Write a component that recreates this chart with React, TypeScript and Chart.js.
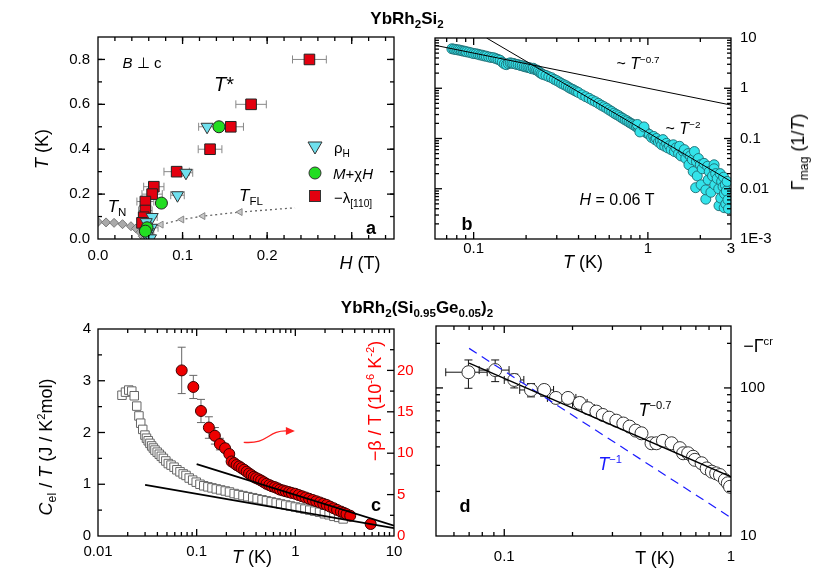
import React, { useEffect, useRef } from 'react';
import { Chart, registerables } from 'chart.js';
Chart.register(...registerables);

const FONT = '"Liberation Sans", Arial, Helvetica, sans-serif';
Chart.defaults.font.family = FONT;

// ---------------- Panel a data (H in T, T in K) ----------------
const lamH = [0.25, 0.181, 0.157, 0.1325, 0.093, 0.066, 0.064, 0.056, 0.056, 0.054, 0.052];
const lamT = [0.8, 0.6, 0.5, 0.4, 0.3, 0.233, 0.2, 0.167, 0.127, 0.097, 0.072];
const lamErr = [0.02, 0.018, 0.015, 0.014, 0.015, 0.012, 0.012, 0.01, 0.008, 0.006, 0.004];
const rhoH = [0.129, 0.104, 0.094, 0.064, 0.057, 0.063, 0.06, 0.058, 0.062];
const rhoT = [0.5, 0.295, 0.195, 0.098, 0.075, 0.05, 0.03, 0.012, 0.003];
const rhoErr = [0.01, 0.008, 0.008, 0.006, 0.004, 0.008, 0.006, 0.005, 0.004];
const magH = [0.143, 0.075, 0.058, 0.056];
const magT = [0.5, 0.16, 0.05, 0.035];
const tnH = [0.0, 0.0095, 0.019, 0.029, 0.039, 0.045, 0.05, 0.053, 0.055];
const tnT = [0.076, 0.074, 0.072, 0.066, 0.057, 0.047, 0.03, 0.012, 0.0];
const tflH = [0.063, 0.0746, 0.099, 0.124, 0.168, 0.233];
const tflT = [0.058, 0.064, 0.087, 0.102, 0.12, 0.139];
const tflShown = [0, 4, 4, 4, 4, 0];

// ---------------- Panel b data ----------------
const gamT1 = [0.075, 0.077, 0.079, 0.081, 0.083, 0.085, 0.087, 0.089, 0.091, 0.094, 0.097, 0.1, 0.103, 0.106, 0.109, 0.112, 0.115, 0.118, 0.122, 0.126, 0.13, 0.134, 0.138, 0.142, 0.146, 0.15, 0.154, 0.158, 0.162, 0.166, 0.17, 0.175, 0.18, 0.185, 0.19, 0.195, 0.2, 0.205, 0.21, 0.215, 0.22, 0.225, 0.23, 0.235, 0.24, 0.245, 0.25];
const gamG1 = [6.1, 6.0, 5.9, 5.8, 5.75, 5.6, 5.5, 5.45, 5.3, 5.2, 5.05, 4.9, 4.85, 4.75, 4.6, 4.55, 4.4, 4.35, 4.2, 4.1, 4.05, 3.9, 3.75, 3.6, 3.3, 3.05, 2.95, 3.1, 3.2, 3.15, 3.1, 3.0, 2.95, 2.85, 2.8, 2.7, 2.65, 2.6, 2.55, 2.45, 2.5, 2.35, 2.3, 2.2, 2.05, 1.95, 1.88];
const gamT2 = [0.26, 0.27, 0.28, 0.29, 0.3, 0.31, 0.32, 0.33, 0.34, 0.35, 0.36, 0.37, 0.38, 0.39, 0.4, 0.42, 0.44, 0.46, 0.48, 0.5, 0.52, 0.54, 0.56, 0.58, 0.6, 0.62, 0.64, 0.66, 0.68, 0.7, 0.72, 0.74, 0.76, 0.78, 0.8, 0.82, 0.84, 0.86, 0.88, 0.9, 0.92, 0.94, 0.96, 0.98, 1.0, 0.87, 0.9, 0.95];
const gamG2 = [1.8, 1.7, 1.62, 1.5, 1.42, 1.33, 1.24, 1.18, 1.12, 1.05, 0.99, 0.95, 0.9, 0.86, 0.82, 0.74, 0.68, 0.63, 0.58, 0.54, 0.5, 0.46, 0.43, 0.4, 0.37, 0.345, 0.32, 0.3, 0.285, 0.265, 0.25, 0.235, 0.225, 0.21, 0.2, 0.19, 0.18, 0.17, 0.16, 0.155, 0.16, 0.145, 0.14, 0.13, 0.125, 0.19, 0.135, 0.17];
const gamT3 = [1.02, 1.05, 1.08, 1.1, 1.12, 1.15, 1.18, 1.2, 1.22, 1.25, 1.28, 1.3, 1.33, 1.36, 1.4, 1.42, 1.45, 1.5, 1.52, 1.55, 1.6, 1.62, 1.65, 1.7, 1.72, 1.75, 1.8, 1.82, 1.85, 1.88, 1.9, 1.92, 1.95, 2.0, 2.02, 2.05, 2.1, 2.15, 2.15, 2.2, 2.22, 2.25, 2.3, 2.35, 2.4, 2.4, 2.42, 2.45, 2.5, 2.55, 2.56, 2.6, 2.62, 2.65, 2.7, 2.72, 2.74, 2.75, 2.78, 2.8, 2.82, 2.85, 2.88, 2.9];
const gamG3 = [0.12, 0.105, 0.11, 0.095, 0.1, 0.085, 0.09, 0.075, 0.095, 0.07, 0.08, 0.065, 0.072, 0.06, 0.075, 0.055, 0.065, 0.05, 0.07, 0.045, 0.055, 0.06, 0.04, 0.05, 0.03, 0.045, 0.038, 0.022, 0.055, 0.0105, 0.035, 0.018, 0.04, 0.03, 0.012, 0.025, 0.032, 0.0062, 0.0095, 0.028, 0.015, 0.022, 0.0085, 0.018, 0.03, 0.025, 0.012, 0.02, 0.016, 0.01, 0.0046, 0.02, 0.0065, 0.014, 0.011, 0.017, 0.0042, 0.008, 0.012, 0.005, 0.009, 0.014, 0.006, 0.004];
const fit07bT = [0.06, 3];
const fit07bG = [7.16, 0.463];
const fit2bT = [0.1186, 3];
const fit2bG = [10, 0.014];

// ---------------- Panel c data ----------------
const cT = [0.0175, 0.019, 0.0205, 0.022, 0.0233, 0.0247, 0.026, 0.0271, 0.0284, 0.0299, 0.031, 0.0323, 0.0336, 0.035, 0.0364, 0.0378, 0.0398, 0.0418, 0.0438, 0.046, 0.0487, 0.0516, 0.055, 0.059, 0.063, 0.0678, 0.073, 0.078, 0.084, 0.0911, 0.099, 0.108, 0.118, 0.13, 0.143, 0.158, 0.175, 0.195, 0.215, 0.24, 0.265, 0.295, 0.33, 0.37, 0.41, 0.46, 0.51, 0.57, 0.64, 0.71, 0.8, 0.89, 1.0, 1.12, 1.25, 1.4, 1.57, 1.76, 1.97, 2.2, 2.46, 2.75, 3.05];
const cC = [2.72, 2.78, 2.82, 2.8, 2.71, 2.51, 2.32, 2.18, 2.06, 1.95, 1.89, 1.84, 1.79, 1.74, 1.7, 1.66, 1.62, 1.58, 1.54, 1.5, 1.45, 1.4, 1.37, 1.33, 1.28, 1.24, 1.2, 1.17, 1.12, 1.08, 1.04, 1.0, 0.97, 0.95, 0.93, 0.91, 0.89, 0.87, 0.85, 0.82, 0.8, 0.78, 0.76, 0.74, 0.72, 0.7, 0.68, 0.66, 0.64, 0.62, 0.6, 0.58, 0.56, 0.54, 0.52, 0.5, 0.48, 0.46, 0.43, 0.41, 0.38, 0.36, 0.33];
const bT = [0.0705, 0.0925, 0.1106, 0.133, 0.153, 0.172, 0.194, 0.214, 0.226, 0.24, 0.254, 0.27, 0.285, 0.303, 0.321, 0.34, 0.36, 0.38, 0.4, 0.425, 0.45, 0.48, 0.51, 0.545, 0.58, 0.62, 0.66, 0.7, 0.75, 0.8, 0.86, 0.92, 1.0, 1.08, 1.17, 1.27, 1.38, 1.5, 1.63, 1.77, 1.92, 2.08, 2.25, 2.45, 2.65, 2.9, 3.1, 3.3, 3.6, 5.8];
const bR = [20.0, 18.0, 15.1, 13.1, 12.1, 11.1, 10.6, 9.9, 9.0, 8.8, 8.57, 8.4, 8.2, 8.0, 7.77, 7.55, 7.35, 7.15, 7.0, 6.85, 6.7, 6.5, 6.3, 6.15, 6.0, 5.9, 5.75, 5.6, 5.5, 5.4, 5.3, 5.2, 5.1, 4.95, 4.8, 4.65, 4.5, 4.35, 4.2, 4.05, 3.9, 3.75, 3.55, 3.35, 3.15, 2.95, 2.8, 2.65, 2.45, 1.45];
const bErr = [2.8, 1.4, 1.4, 1.3, 1.0, 0.7, 0.5];
const fitUpT = [0.1, 10];
const fitUpC = [1.39, 0.2];
const fitLoT = [0.03, 10];
const fitLoC = [0.99, 0.15];

// ---------------- Panel d data ----------------
const dT = [0.0695, 0.0912, 0.1107, 0.1312, 0.15, 0.169, 0.191, 0.215, 0.234, 0.255, 0.272, 0.29, 0.312, 0.335, 0.357, 0.38, 0.403, 0.446, 0.469, 0.501, 0.547, 0.595, 0.615, 0.647, 0.68, 0.693, 0.742, 0.781, 0.823, 0.86, 0.894, 0.94, 0.968, 0.99];
const dV = [127.7, 132, 113.2, 96.9, 96.9, 85.6, 85.6, 79.2, 72.9, 69.2, 65.7, 63, 60.1, 57.5, 54.8, 51.5, 49.4, 42.3, 42.3, 43.9, 42.3, 39.2, 36.2, 36.2, 34.3, 32.7, 31, 28.6, 27.2, 26.5, 25.8, 23.9, 22.7, 21.5];
const dXLo = [0.0552, 0.0775, 0.1, 0.117, 0.136, 0.155, 0.176, 0.2, 0.22];
const dXHi = [0.0841, 0.105, 0.122, 0.147, 0.165, 0.185, 0.207, 0.232, 0.25];
const dYLo = [99.5, 110.3, 100, 87, 88, 79, 79, 73, 67];
const dYHi = [154.5, 154.5, 124, 107, 105, 92, 92, 86, 79];
const fit07dT = [0.07, 1];
const fit07dV = [147, 25.1];
const fit1dT = [0.07, 1];
const fit1dV = [185, 13.3];

// ---------------- tick label lists ----------------
const aXLabels = [0, 0.1, 0.2];
const aYLabels = [0, 0.2, 0.4, 0.6, 0.8];
const bXLabels = [0.1, 1, 3];
const bYLabels = [0.001, 0.01, 0.1, 1, 10];
const cXLabels = [0.01, 0.1, 1, 10];
const cYLabels = [0, 1, 2, 3, 4];
const cY2Labels = [0, 5, 10, 15, 20];
const dXLabels = [0.1, 1];
const dYLabels = [10, 100];

const pts = (xs: number[], ys: number[]) => xs.map((x, i) => ({ x, y: ys[i] }));
const range = (a: number, b: number, s: number) => {
  const out: number[] = [];
  for (let v = a; v <= b + 1e-9; v += s) out.push(Math.round(v * 1e6) / 1e6);
  return out;
};
const logMinor = (lo: number, hi: number) => {
  const out: number[] = [];
  for (let e = -4; e <= 3; e++) for (let k = 2; k <= 9; k++) {
    const v = k * Math.pow(10, e);
    if (v >= lo * 0.999 && v <= hi * 1.001) out.push(v);
  }
  return out;
};

type Side = { id: string; major: number[]; minor: number[] };
type Err = { ds: number; xLo?: (number | null)[]; xHi?: (number | null)[]; yLo?: (number | null)[]; yHi?: (number | null)[]; color: string; cap?: number };
type FrameCfg = { x: Side; left: Side; right: Side; errs?: Err[]; extra?: (chart: any, ctx: CanvasRenderingContext2D) => void };

function makeFrame(cfg: FrameCfg) {
  const seg = (ctx: CanvasRenderingContext2D, x1: number, y1: number, x2: number, y2: number) => {
    ctx.beginPath(); ctx.moveTo(x1, y1); ctx.lineTo(x2, y2); ctx.stroke();
  };
  return {
    id: 'frame',
    beforeDatasetsDraw(chart: any) {
      const ctx: CanvasRenderingContext2D = chart.ctx; const a = chart.chartArea;
      ctx.save();
      ctx.beginPath(); ctx.rect(a.left, a.top, a.right - a.left, a.bottom - a.top); ctx.clip();
      (cfg.errs || []).forEach((e) => {
        const ds = chart.data.datasets[e.ds];
        const xs = chart.scales[ds.xAxisID || 'x']; const ys = chart.scales[ds.yAxisID || 'y'];
        const c = e.cap ?? 3;
        ctx.strokeStyle = e.color; ctx.lineWidth = 1;
        ds.data.forEach((p: any, i: number) => {
          const px = xs.getPixelForValue(p.x), py = ys.getPixelForValue(p.y);
          if (e.xLo && e.xHi && e.xLo[i] != null && e.xHi[i] != null) {
            const x1 = xs.getPixelForValue(e.xLo[i]), x2 = xs.getPixelForValue(e.xHi[i]);
            seg(ctx, x1, py, x2, py); seg(ctx, x1, py - c, x1, py + c); seg(ctx, x2, py - c, x2, py + c);
          }
          if (e.yLo && e.yHi && e.yLo[i] != null && e.yHi[i] != null) {
            const y1 = ys.getPixelForValue(e.yLo[i]), y2 = ys.getPixelForValue(e.yHi[i]);
            seg(ctx, px, y1, px, y2); seg(ctx, px - c, y1, px + c, y1); seg(ctx, px - c, y2, px + c, y2);
          }
        });
      });
      ctx.restore();
    },
    afterDatasetsDraw(chart: any) {
      const ctx: CanvasRenderingContext2D = chart.ctx; const a = chart.chartArea;
      ctx.save();
      ctx.strokeStyle = '#000'; ctx.lineWidth = 1.3;
      ctx.strokeRect(a.left, a.top, a.right - a.left, a.bottom - a.top);
      const MJ = 7, MN = 4;
      const xs = chart.scales[cfg.x.id];
      const xt = (vals: number[], len: number) => vals.forEach((v) => {
        const p = xs.getPixelForValue(v);
        if (p < a.left + 1 || p > a.right - 1) return;
        seg(ctx, p, a.bottom, p, a.bottom - len); seg(ctx, p, a.top, p, a.top + len);
      });
      xt(cfg.x.major, MJ); xt(cfg.x.minor, MN);
      const yt = (s: Side, left: boolean) => {
        const ys = chart.scales[s.id];
        const f = (vals: number[], len: number) => vals.forEach((v) => {
          const p = ys.getPixelForValue(v);
          if (p < a.top + 1 || p > a.bottom - 1) return;
          if (left) seg(ctx, a.left, p, a.left + len, p); else seg(ctx, a.right, p, a.right - len, p);
        });
        f(s.major, MJ); f(s.minor, MN);
      };
      yt(cfg.left, true); yt(cfg.right, false);
      if (cfg.extra) cfg.extra(chart, ctx);
      ctx.restore();
    },
  };
}

const tickFont = { family: FONT, size: 15 };
const fmtNum = (v: number) => String(v);

function linAxis(pos: string, min: number, max: number, labels: number[], fmt: (v: number) => string, padding: number, size: number, color = '#000') {
  const horiz = pos === 'bottom' || pos === 'top';
  return {
    type: 'linear', position: pos, min, max,
    grid: { display: false, drawTicks: false }, border: { display: false },
    ticks: { font: tickFont, color, padding, autoSkip: false, maxRotation: 0, minRotation: 0, callback: (v: any) => fmt(Number(v)) },
    afterBuildTicks: (s: any) => { s.ticks = labels.map((v) => ({ value: v })); },
    afterFit: (s: any) => { if (horiz) s.height = size; else s.width = size; },
  };
}
function logAxis(pos: string, min: number, max: number, labels: number[], fmt: (v: number) => string, padding: number, size: number) {
  const horiz = pos === 'bottom' || pos === 'top';
  return {
    type: 'logarithmic', position: pos, min, max,
    grid: { display: false, drawTicks: false }, border: { display: false },
    ticks: { font: tickFont, color: '#000', padding, autoSkip: false, maxRotation: 0, minRotation: 0, callback: (v: any) => fmt(Number(v)) },
    afterBuildTicks: (s: any) => { s.ticks = labels.map((v) => ({ value: v })); },
    afterFit: (s: any) => { if (horiz) s.height = size; else s.width = size; },
  };
}

const baseOpts = (padding: any, scales: any) => ({
  animation: false, responsive: false, maintainAspectRatio: false, events: [],
  layout: { padding },
  plugins: { legend: { display: false }, tooltip: { enabled: false } },
  scales,
});

// ---------------- configs ----------------
function cfgA() {
  const legend = (chart: any, ctx: CanvasRenderingContext2D) => {
    const x = 315;
    ctx.lineWidth = 1; ctx.strokeStyle = '#333';
    // triangle down
    ctx.fillStyle = '#6fe0ee';
    ctx.beginPath(); ctx.moveTo(x - 7, 122); ctx.lineTo(x + 7, 122); ctx.lineTo(x, 134); ctx.closePath(); ctx.fill(); ctx.stroke();
    ctx.fillStyle = '#22dd22';
    ctx.beginPath(); ctx.arc(x, 153, 6, 0, Math.PI * 2); ctx.fill(); ctx.stroke();
    ctx.fillStyle = '#e3000f';
    ctx.fillRect(x - 5.5, 170.5, 11, 11); ctx.strokeRect(x - 5.5, 170.5, 11, 11);
  };
  return {
    type: 'scatter',
    data: {
      datasets: [
        { data: pts(magH, magT), pointStyle: 'circle', pointRadius: 6, pointBackgroundColor: '#22dd22', pointBorderColor: '#222', pointBorderWidth: 1 },
        { data: pts(rhoH, rhoT), pointStyle: 'triangle', rotation: 180, pointRadius: 7, pointBackgroundColor: '#6fe0ee', pointBorderColor: '#333', pointBorderWidth: 1 },
        { data: pts(lamH, lamT), pointStyle: 'rect', pointRadius: 7.5, pointBackgroundColor: '#e3000f', pointBorderColor: '#222', pointBorderWidth: 1 },
        { data: pts(tflH, tflT), showLine: true, borderColor: '#666', borderWidth: 1.3, borderDash: [2, 3], pointStyle: 'triangle', rotation: -90, pointRadius: tflShown, pointBackgroundColor: '#c8c8c8', pointBorderColor: '#888', pointBorderWidth: 1 },
        { data: pts(tnH, tnT), showLine: true, borderColor: '#888', borderWidth: 1, pointStyle: 'rectRot', pointRadius: 4.5, pointBackgroundColor: '#aaa', pointBorderColor: '#777', pointBorderWidth: 1 },
      ],
    },
    options: baseOpts({ left: 0, right: 26, top: 12, bottom: 0 }, {
      x: linAxis('bottom', 0, 0.35, aXLabels, (v) => v.toFixed(1), 8, 51),
      y: linAxis('left', 0, 0.9, aYLabels, (v) => v.toFixed(1), 8, 98),
    }),
    plugins: [makeFrame({
      x: { id: 'x', major: range(0, 0.3, 0.1), minor: range(0.02, 0.34, 0.02) },
      left: { id: 'y', major: aYLabels, minor: range(0.1, 0.9, 0.1) },
      right: { id: 'y', major: aYLabels, minor: range(0.1, 0.9, 0.1) },
      errs: [
        { ds: 2, xLo: lamH.map((h, i) => h - lamErr[i]), xHi: lamH.map((h, i) => h + lamErr[i]), color: '#888', cap: 4 },
        { ds: 1, xLo: rhoH.map((h, i) => h - rhoErr[i]), xHi: rhoH.map((h, i) => h + rhoErr[i]), color: '#888', cap: 4 },
      ],
      extra: legend,
    })],
  };
}

function cfgB() {
  const gT = [...gamT1, ...gamT2, ...gamT3];
  const gG = [...gamG1, ...gamG2, ...gamG3];
  return {
    type: 'scatter',
    data: {
      datasets: [
        { data: pts(fit07bT, fit07bG), showLine: true, borderColor: '#000', borderWidth: 1, pointRadius: 0 },
        { data: pts(fit2bT, fit2bG), showLine: true, borderColor: '#000', borderWidth: 1, pointRadius: 0 },
        { data: pts(gT, gG), pointStyle: 'circle', pointRadius: 5, pointBackgroundColor: '#33e3ea', pointBorderColor: '#1f6a70', pointBorderWidth: 0.9 },
      ],
    },
    options: baseOpts({ left: 20, right: 0, top: 13, bottom: 0 }, {
      x: logAxis('bottom', 0.06, 3, bXLabels, fmtNum, 1, 51),
      y: logAxis('right', 0.001, 10, bYLabels, (v) => (v < 0.002 ? '1E-3' : String(v)), 9, 99),
    }),
    plugins: [makeFrame({
      x: { id: 'x', major: [0.1, 1], minor: logMinor(0.06, 3) },
      left: { id: 'y', major: bYLabels, minor: logMinor(0.001, 10) },
      right: { id: 'y', major: bYLabels, minor: logMinor(0.001, 10) },
    })],
  };
}

function cfgC() {
  const arrow = (chart: any, ctx: CanvasRenderingContext2D) => {
    const xs = chart.scales.x, ys = chart.scales.y;
    const x0 = xs.getPixelForValue(0.3), y0 = ys.getPixelForValue(1.81);
    const x1 = xs.getPixelForValue(0.99), y1 = ys.getPixelForValue(2.03);
    const dx = x1 - x0;
    ctx.strokeStyle = '#ff2020'; ctx.fillStyle = '#ff2020'; ctx.lineWidth = 1.3;
    ctx.beginPath(); ctx.moveTo(x0, y0);
    ctx.bezierCurveTo(x0 + dx * 0.5, y0 + 2, x0 + dx * 0.45, y1 - 1, x1 - 7, y1);
    ctx.stroke();
    ctx.beginPath(); ctx.moveTo(x1, y1); ctx.lineTo(x1 - 9, y1 - 4); ctx.lineTo(x1 - 9, y1 + 4); ctx.closePath(); ctx.fill();
  };
  return {
    type: 'scatter',
    data: {
      datasets: [
        { data: pts(fitUpT, fitUpC), showLine: true, borderColor: '#000', borderWidth: 1.8, pointRadius: 0 },
        { data: pts(fitLoT, fitLoC), showLine: true, borderColor: '#000', borderWidth: 1.8, pointRadius: 0 },
        { data: pts(bT, bR), yAxisID: 'y2', pointStyle: 'circle', pointRadius: 5.5, pointBackgroundColor: '#ee0000', pointBorderColor: '#3a0000', pointBorderWidth: 1 },
        { data: pts(cT, cC), pointStyle: 'rect', pointRadius: 6, pointBackgroundColor: '#fff', pointBorderColor: '#666', pointBorderWidth: 1 },
      ],
    },
    options: baseOpts({ left: 0, right: 0, top: 29, bottom: 0 }, {
      x: logAxis('bottom', 0.01, 10, cXLabels, fmtNum, 7, 39),
      y: linAxis('left', 0, 4, cYLabels, (v) => String(v), 7, 98),
      y2: linAxis('right', 0, 25, cY2Labels, (v) => String(v), 3, 31, '#ff0000'),
    }),
    plugins: [makeFrame({
      x: { id: 'x', major: cXLabels, minor: logMinor(0.01, 10) },
      left: { id: 'y', major: cYLabels, minor: [0.5, 1.5, 2.5, 3.5] },
      right: { id: 'y2', major: [0, 5, 10, 15, 20, 25], minor: [2.5, 7.5, 12.5, 17.5, 22.5] },
      errs: [{ ds: 2, yLo: bR.map((r, i) => (i < bErr.length ? r - bErr[i] : null)), yHi: bR.map((r, i) => (i < bErr.length ? r + bErr[i] : null)), color: '#666', cap: 4 }],
      extra: arrow,
    })],
  };
}

function cfgD() {
  return {
    type: 'scatter',
    data: {
      datasets: [
        { data: pts(fit07dT, fit07dV), showLine: true, borderColor: '#000', borderWidth: 1.3, pointRadius: 0 },
        { data: pts(fit1dT, fit1dV), showLine: true, borderColor: '#1a1aff', borderWidth: 1.2, borderDash: [9, 6], pointRadius: 0 },
        { data: pts(dT, dV), pointStyle: 'circle', pointRadius: 6.5, pointBackgroundColor: '#fff', pointBorderColor: '#333', pointBorderWidth: 1 },
      ],
    },
    options: baseOpts({ left: 21, right: 0, top: 26, bottom: 0 }, {
      x: logAxis('bottom', 0.05, 1, dXLabels, fmtNum, 12, 39),
      y: logAxis('right', 10, 262, dYLabels, fmtNum, 9, 99),
    }),
    plugins: [makeFrame({
      x: { id: 'x', major: dXLabels, minor: logMinor(0.05, 1) },
      left: { id: 'y', major: dYLabels, minor: logMinor(10, 262) },
      right: { id: 'y', major: dYLabels, minor: logMinor(10, 262) },
      errs: [{ ds: 2, xLo: dXLo, xHi: dXHi, yLo: dYLo, yHi: dYHi, color: '#111', cap: 4 }],
    })],
  };
}

function ChartBox({ make, left, top, width, height }: { make: () => any; left: number; top: number; width: number; height: number }) {
  const ref = useRef<HTMLCanvasElement>(null);
  useEffect(() => {
    const ch = new Chart(ref.current as HTMLCanvasElement, make());
    return () => ch.destroy();
  }, []);
  return <canvas ref={ref} width={width} height={height} style={{ position: 'absolute', left, top, width, height }} />;
}

const Sub = ({ children }: any) => <span style={{ fontSize: '0.68em', position: 'relative', top: '0.35em' }}>{children}</span>;
const Sup = ({ children }: any) => <span style={{ fontSize: '0.62em', position: 'relative', top: '-0.6em' }}>{children}</span>;

function L({ x, y, size = 16, bold = false, color = '#000', rot = 0, left = false, children }: any) {
  return (
    <div style={{ position: 'absolute', left: x, top: y, transform: `translate(${left ? '0' : '-50%'},-50%) rotate(${rot}deg)`, fontSize: size, fontWeight: bold ? 'bold' : 'normal', color, whiteSpace: 'nowrap', lineHeight: 1, fontFamily: FONT }}>
      {children}
    </div>
  );
}

export default function App() {
  return (
    <div style={{ position: 'fixed', left: 0, top: 0, width: 830, height: 585, background: '#fff', overflow: 'hidden', fontFamily: FONT }}>
      <ChartBox make={cfgA} left={0} top={20} width={420} height={270} />
      <ChartBox make={cfgB} left={415} top={20} width={415} height={270} />
      <ChartBox make={cfgC} left={0} top={300} width={425} height={275} />
      <ChartBox make={cfgD} left={415} top={300} width={415} height={275} />

      <L x={407} y={18} size={17} bold>YbRh<Sub>2</Sub>Si<Sub>2</Sub></L>
      <L x={417} y={307} size={17} bold>YbRh<Sub>2</Sub>(Si<Sub>0.95</Sub>Ge<Sub>0.05</Sub>)<Sub>2</Sub></L>

      {/* panel a */}
      <L x={142} y={62} size={15}><i>B</i> ⊥ c</L>
      <L x={224} y={84} size={20}><i>T</i>*</L>
      <L x={117} y={206} size={17}><i>T</i><Sub>N</Sub></L>
      <L x={251} y={195} size={17}><i>T</i><Sub>FL</Sub></L>
      <L x={371} y={228} size={18} bold>a</L>
      <L x={334} y={148} size={15} left>ρ<Sub>H</Sub></L>
      <L x={333} y={173} size={15} left><i>M</i>+χ<i>H</i></L>
      <L x={334} y={198} size={15} left>−λ<Sub>[110]</Sub></L>
      <L x={42} y={149} size={18} rot={-90}><i>T</i> (K)</L>
      <L x={360} y={263} size={18}><i>H</i> (T)</L>

      {/* panel b */}
      <L x={638} y={64} size={16}>~ <i>T</i><Sup>−0.7</Sup></L>
      <L x={683} y={129} size={16}>~ <i>T</i><Sup>−2</Sup></L>
      <L x={617} y={200} size={16}><i>H</i> = 0.06 T</L>
      <L x={467} y={224} size={18} bold>b</L>
      <L x={583} y={262} size={18}><i>T</i> (K)</L>
      <L x={798} y={152} size={18} rot={-90}>Γ<Sub>mag</Sub> (1/<i>T</i>)</L>

      {/* panel c */}
      <L x={376} y={505} size={18} bold>c</L>
      <L x={252} y={557} size={18}><i>T</i> (K)</L>
      <L x={46} y={447} size={18} rot={-90}><i>C</i><Sub>el</Sub> / <i>T</i> (J / K<Sup>2</Sup>mol)</L>
      <L x={375} y={401} size={18} rot={-90} color="#ff0000">−β / T (10<Sup>-6</Sup> K<Sup>-2</Sup>)</L>

      {/* panel d */}
      <L x={465} y={506} size={18} bold>d</L>
      <L x={655} y={410} size={18}><i>T</i><Sup>−0.7</Sup></L>
      <L x={610} y={464} size={18} color="#1a1aff"><i>T</i><Sup>−1</Sup></L>
      <L x={655} y={558} size={18}>T (K)</L>
      <L x={758} y={346} size={18}>−Γ<Sup>cr</Sup></L>
    </div>
  );
}
